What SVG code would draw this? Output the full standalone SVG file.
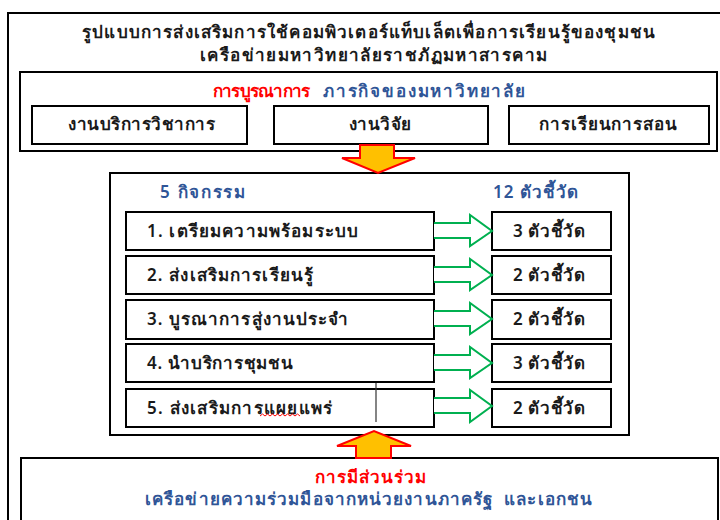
<svg xmlns="http://www.w3.org/2000/svg" width="720" height="520" viewBox="0 0 720 520">
<style>
text{font-family:"Noto Sans","DejaVu Sans",sans-serif;font-size:17px;font-weight:600;fill:#1a1a1a}
.box{fill:#fff;stroke:#000;stroke-width:2}
.frame{fill:none;stroke:#000;stroke-width:2}
.red{fill:#ff0000}
.blue{fill:#2f5597}
.c{text-anchor:middle}
.garrow{fill:#fff;stroke:#00b050;stroke-width:2;stroke-linejoin:miter}
.oarrow{fill:#ffc000;stroke:#ff0000;stroke-width:2}
</style>
<rect x="0" y="0" width="720" height="520" fill="#fff"/>
<rect x="8" y="13" width="730" height="530" class="frame"/>
<g id="title">
<text x="368.5" y="38" class="c" textLength="573">รูปแบบการส่งเสริมการใช้คอมพิวเตอร์แท็บเล็ตเพื่อการเรียนรู้ของชุมชน</text>
<text x="373.5" y="61" class="c" textLength="347">เครือข่ายมหาวิทยาลัยราชภัฏมหาสารคาม</text>
</g>
<g id="missions">
<rect x="20" y="72" width="697" height="79" class="frame"/>
<text x="213" y="97" class="red" textLength="97">การบูรณาการ</text>
<text x="323" y="97" class="blue" textLength="202">ภารกิจของมหาวิทยาลัย</text>
</g>
<g id="m1"><rect x="32" y="106" width="215" height="38" class="box"/><text x="141.5" y="130" class="c" textLength="147">งานบริการวิชาการ</text></g>
<g id="m2"><rect x="274" y="106" width="214" height="38" class="box"/><text x="380" y="130" class="c" textLength="62">งานวิจัย</text></g>
<g id="m3"><rect x="509" y="106" width="200" height="38" class="box"/><text x="608" y="130" class="c" textLength="138">การเรียนการสอน</text></g>
<g id="activities">
<rect x="110" y="173" width="519" height="262" class="frame"/>
<text x="160" y="198" class="blue" textLength="85">5 กิจกรรม</text>
<text x="493" y="198" class="blue" textLength="85">12 ตัวชี้วัด</text>
</g>
<g id="a1"><rect x="126" y="212" width="308" height="38" class="box"/><text x="147" y="237" textLength="211">1. เตรียมความพร้อมระบบ</text></g>
<g id="a2"><rect x="126" y="256" width="308" height="38" class="box"/><text x="147" y="281" textLength="166">2. ส่งเสริมการเรียนรู้</text></g>
<g id="a3"><rect x="126" y="300" width="308" height="39" class="box"/><text x="147" y="325" textLength="201">3. บูรณาการสู่งานประจำ</text></g>
<g id="a4"><rect x="126" y="344" width="308" height="38" class="box"/><text x="147" y="369" textLength="146">4. นำบริการชุมชน</text></g>
<g id="a5"><rect x="126" y="389" width="308" height="38" class="box"/><text x="147" y="414" textLength="185">5. ส่งเสริมการแผยแพร่</text>
<path d="M260 416 l2.5 -2 l2.5 2 l2.5 -2 l2.5 2 l2.5 -2 l2.5 2 l2.5 -2 l2.5 2 l2.5 -2 l2.5 2 l2.5 -2 l2.5 2 l2.5 -2 l2.5 2 l2.5 -2 l2.5 2" fill="none" stroke="#ff0000" stroke-width="1"/>
</g>
<g id="i1"><rect x="492" y="212" width="119" height="38" class="box"/><text x="549" y="237" class="c" textLength="72">3 ตัวชี้วัด</text></g>
<g id="i2"><rect x="492" y="256" width="119" height="38" class="box"/><text x="549" y="281" class="c" textLength="72">2 ตัวชี้วัด</text></g>
<g id="i3"><rect x="492" y="300" width="119" height="39" class="box"/><text x="549" y="325" class="c" textLength="72">2 ตัวชี้วัด</text></g>
<g id="i4"><rect x="492" y="344" width="119" height="38" class="box"/><text x="549" y="369" class="c" textLength="72">3 ตัวชี้วัด</text></g>
<g id="i5"><rect x="492" y="389" width="119" height="38" class="box"/><text x="549" y="414" class="c" textLength="72">2 ตัวชี้วัด</text></g>
<g id="participation">
<rect x="21" y="458" width="697" height="80" class="frame"/>
<text x="370.5" y="483" class="c red" textLength="111">การมีส่วนร่วม</text>
<text x="368.5" y="505" class="c blue" textLength="447" xml:space="preserve">เครือข่ายความร่วมมือจากหน่วยงานภาครัฐ  และเอกชน</text>
</g>
<g id="connectors">
<path class="oarrow" d="M360 145 H394 V158 H415 L378 173 L342 158 H360 Z"/>
<path class="oarrow" d="M356 458 H391 V446 H411 L374 431 L337 446 H356 Z"/>
<path class="garrow" d="M434 223 H470 V215 L492 231 L470 246 V238 H434"/>
<path class="garrow" d="M434 267 H470 V259 L492 275 L470 290 V282 H434"/>
<path class="garrow" d="M434 311 H470 V303 L492 319 L470 334 V326 H434"/>
<path class="garrow" d="M434 355 H470 V347 L492 363 L470 378 V370 H434"/>
<path class="garrow" d="M434 398 H470 V390 L492 406 L470 422 V413 H434"/>
<line x1="376" y1="383" x2="376" y2="422" stroke="#333" stroke-width="1.2"/>
</g>
</svg>
